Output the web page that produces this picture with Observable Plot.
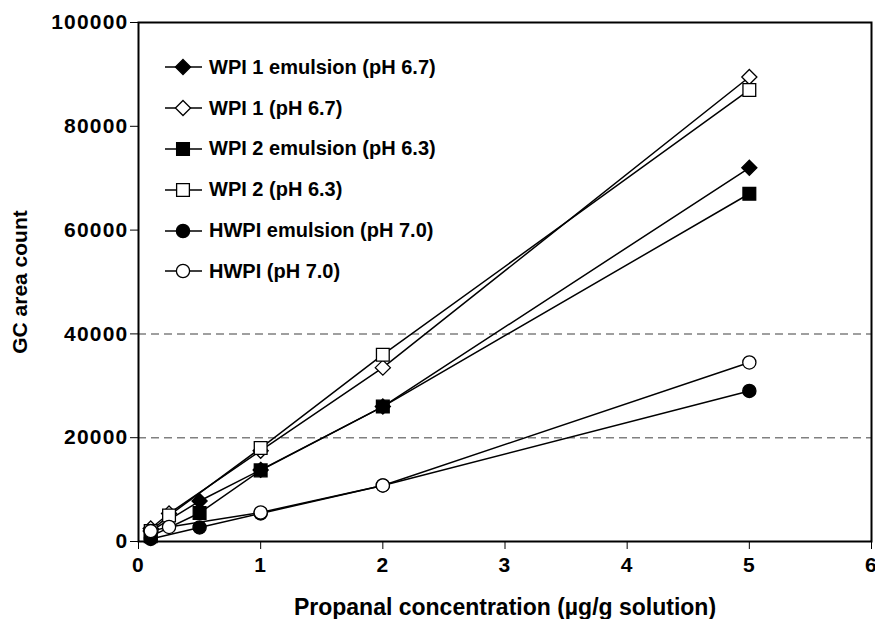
<!DOCTYPE html>
<html>
<head>
<meta charset="utf-8">
<script src="https://cdn.jsdelivr.net/npm/d3@7"></script>
<script src="https://cdn.jsdelivr.net/npm/@observablehq/plot@0.6"></script>
<style>
  html, body { margin: 0; padding: 0; background: #fff; }
  #wrap { position: relative; width: 875px; height: 619px; font-family: "Liberation Sans", Arial, sans-serif; }
  #legend { position: absolute; left: 165px; top: 47px; }
  .row { height: 40.8px; display: flex; align-items: center; font-weight: bold; font-size: 20px; color: #000; white-space: nowrap; }
  .row svg { margin-right: 6px; }
  .tk text { letter-spacing: 1.2px; }
</style>
</head>
<body>
<div id="wrap"><div id="legend"></div></div>
<script>
// ---- data ----
const seriesNames = [
  "WPI 1 emulsion (pH 6.7)",
  "WPI 1 (pH 6.7)",
  "WPI 2 emulsion (pH 6.3)",
  "WPI 2 (pH 6.3)",
  "HWPI emulsion (pH 7.0)",
  "HWPI (pH 7.0)"
];
const xEmulsion = [0.1, 0.5, 1, 2, 5];
const xSolution = [0.1, 0.25, 1, 2, 5];
const wpi1Emulsion = [2000, 7800, 13800, 26000, 72000];
const wpi1 = [2500, 5400, 17500, 33500, 89500];
const wpi2Emulsion = [1000, 5500, 13700, 26000, 67000];
const wpi2 = [2000, 5000, 18000, 36000, 87000];
const hwpiEmulsion = [500, 2700, 5400, 10800, 29000];
const hwpi = [2000, 2800, 5600, 10800, 34500];
const xTicks = [0, 1, 2, 3, 4, 5, 6];
const yTicks = [0, 20000, 40000, 60000, 80000, 100000];
const gridValues = [20000, 40000];

const markerSymbols = ["diamond2", "diamond2", "square", "square", "circle", "circle"];
const markerFills = ["black", "white", "black", "white", "black", "white"];
const markerR = [6.8, 6.8, 7.2, 7.2, 6.6, 6.6];

const seriesX = [xEmulsion, xSolution, xEmulsion, xSolution, xEmulsion, xSolution];
const seriesY = [wpi1Emulsion, wpi1, wpi2Emulsion, wpi2, hwpiEmulsion, hwpi];

const font = '"Liberation Sans", Arial, sans-serif';

const marks = [
  Plot.ruleY(gridValues, {stroke: "#808080", strokeWidth: 1.5, strokeDasharray: "8,5"})
];
seriesNames.forEach((name, i) => {
  const rows = seriesX[i].map((x, j) => ({series: name, x, y: seriesY[i][j]}));
  marks.push(Plot.line(rows, {x: "x", y: "y", stroke: "black", strokeWidth: 1.5}));
});
seriesNames.forEach((name, i) => {
  const rows = seriesX[i].map((x, j) => ({series: name, x, y: seriesY[i][j]}));
  marks.push(Plot.dot(rows, {x: "x", y: "y", symbol: () => markerSymbols[i], r: markerR[i],
    fill: markerFills[i], stroke: "black", strokeWidth: 1.3}));
});
marks.push(
  Plot.frame({stroke: "black", strokeWidth: 2}),
  Plot.axisX({ticks: xTicks, tickSize: 8, tickPadding: 8, tickFormat: d3.format("d"), label: null,
    fontSize: 21, fontWeight: "bold", className: "tk"}),
  Plot.axisY({ticks: yTicks, tickSize: 8, tickPadding: 2, tickFormat: d3.format("d"), label: null,
    fontSize: 21, fontWeight: "bold", className: "tk"}),
  Plot.text(["Propanal concentration (\u00b5g/g solution)"], {frameAnchor: "bottom", dy: 66,
    fontSize: 23, fontWeight: "bold", lineAnchor: "middle", textAnchor: "middle"}),
  Plot.text(["GC area count"], {frameAnchor: "left", dx: -118, rotate: -90,
    fontSize: 21, fontWeight: "bold", lineAnchor: "middle", textAnchor: "middle"})
);

const chart = Plot.plot({
  width: 875,
  height: 619,
  marginLeft: 138,
  marginRight: 4,
  marginTop: 22,
  marginBottom: 78,
  style: {fontFamily: font, color: "black", background: "white", overflow: "visible"},
  x: {domain: [0, 6]},
  y: {domain: [0, 100000]},
  symbol: {type: "identity"},
  marks
});
document.getElementById("wrap").prepend(chart);

// ---- legend overlay ----
const legend = d3.select("#legend");
seriesNames.forEach((name, i) => {
  const row = legend.append("div").attr("class", "row");
  const svg = row.append("svg").attr("width", 38).attr("height", 20);
  svg.append("line").attr("x1", 0).attr("x2", 37).attr("y1", 10).attr("y2", 10)
    .attr("stroke", "black").attr("stroke-width", 1.5);
  const symMap = {diamond2: d3.symbolDiamond2, square: d3.symbolSquare, circle: d3.symbolCircle};
  const r = markerR[i];
  svg.append("path")
    .attr("d", d3.symbol(symMap[markerSymbols[i]], Math.PI * r * r)())
    .attr("transform", "translate(18,10)")
    .attr("fill", markerFills[i]).attr("stroke", "black").attr("stroke-width", 1.3);
  row.append("span").text(name);
});
</script>
</body>
</html>
